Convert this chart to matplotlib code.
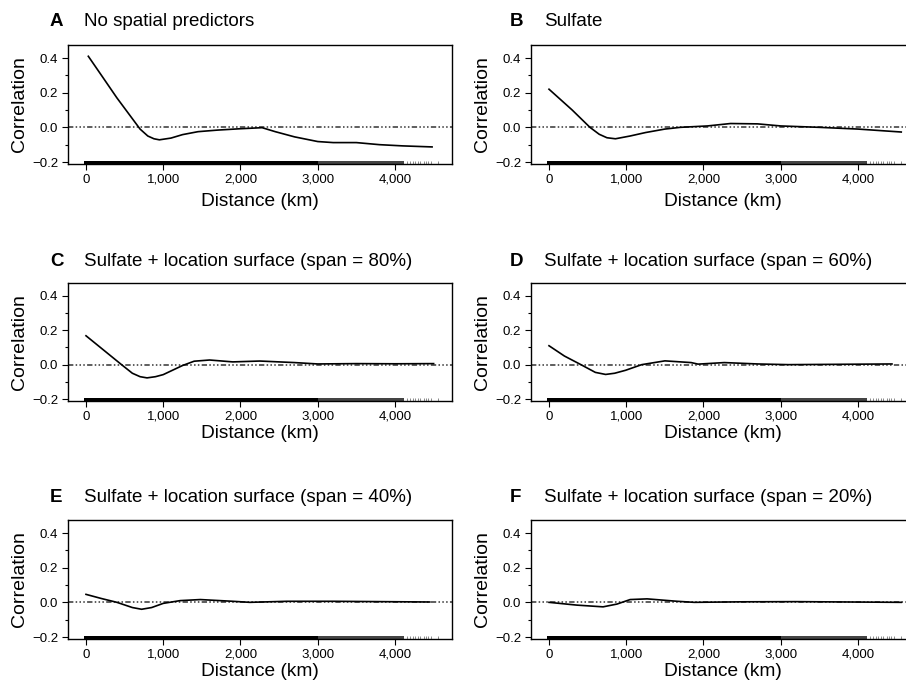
import matplotlib.pyplot as plt
from matplotlib.ticker import FuncFormatter, MultipleLocator

plt.rcParams['font.family'] = ['Liberation Sans Narrow', 'Liberation Sans', 'DejaVu Sans']

# panel letters and titles
letters = ['A', 'B', 'C', 'D', 'E', 'F']
titles = ['No spatial predictors',
          'Sulfate',
          'Sulfate + location surface (span = 80%)',
          'Sulfate + location surface (span = 60%)',
          'Sulfate + location surface (span = 40%)',
          'Sulfate + location surface (span = 20%)']

# correlogram curves (distance km, correlation)
A_x = [30, 200, 400, 600, 700, 800, 880, 950, 1100, 1250, 1450, 1700, 2000, 2280, 2450, 2700, 3000, 3200, 3500, 3800, 4100, 4480]
A_y = [0.41, 0.30, 0.17, 0.05, -0.01, -0.05, -0.066, -0.072, -0.062, -0.042, -0.025, -0.016, -0.008, -0.002, -0.025, -0.055, -0.082, -0.088, -0.088, -0.10, -0.107, -0.113]

B_x = [0, 150, 300, 530, 650, 750, 860, 1050, 1250, 1500, 1700, 2050, 2350, 2700, 3000, 3500, 4000, 4560]
B_y = [0.22, 0.16, 0.10, 0.0, -0.04, -0.06, -0.066, -0.05, -0.03, -0.01, 0.0, 0.008, 0.022, 0.02, 0.008, 0.0, -0.01, -0.027]

C_x = [0, 200, 460, 600, 700, 790, 900, 1000, 1250, 1400, 1600, 1900, 2250, 2700, 3000, 3500, 4000, 4500]
C_y = [0.168, 0.095, 0.0, -0.05, -0.07, -0.077, -0.07, -0.058, -0.005, 0.02, 0.027, 0.016, 0.021, 0.012, 0.004, 0.006, 0.005, 0.006]

D_x = [0, 200, 413, 600, 733, 850, 990, 1200, 1500, 1840, 1930, 2270, 2700, 3100, 4440]
D_y = [0.11, 0.05, 0.0, -0.045, -0.057, -0.05, -0.033, 0.0, 0.022, 0.012, 0.003, 0.012, 0.004, 0.0, 0.004]

E_x = [0, 200, 400, 600, 720, 850, 1000, 1220, 1480, 1900, 2120, 2600, 3200, 4450]
E_y = [0.046, 0.022, 0.0, -0.03, -0.04, -0.03, -0.006, 0.01, 0.016, 0.006, 0.0, 0.006, 0.006, 0.002]

F_x = [0, 360, 700, 880, 1050, 1270, 1660, 1880, 2500, 3200, 4560]
F_y = [0.0, -0.016, -0.026, -0.01, 0.016, 0.02, 0.006, 0.0, 0.003, 0.004, 0.0]

curves_x = [A_x, B_x, C_x, D_x, E_x, F_x]
curves_y = [A_y, B_y, C_y, D_y, E_y, F_y]

# rug of pair distances: dense band, thinner band, isolated ticks
rug_dense = [-20, 3000]
rug_thin = [3000, 4120]
rug_sparse = [4150, 4190, 4230, 4260, 4300, 4330, 4370, 4400, 4430, 4470, 4560]

x_ticks = [0, 1000, 2000, 3000, 4000]
y_ticks = [-0.2, 0.0, 0.2, 0.4]

W, H = 906, 688
fig = plt.figure(figsize=(W / 100, H / 100), dpi=100)

# axes boxes in pixels: left, top, right, bottom
cols = [(68, 452), (531, 915)]
rows = [(45, 164), (283, 401), (520, 639)]
title_y = [22, 262, 497]
xlabel_y = [201, 434, 671]

fmt = FuncFormatter(lambda v, p: f'{int(v):,}')
yfmt = FuncFormatter(lambda v, p: f'{v:.1f}'.replace('-', '\u2212'))

for i in range(6):
    r, c = divmod(i, 2)
    l, rr = cols[c]
    t, b = rows[r]
    ax = fig.add_axes([l / W, 1 - b / H, (rr - l) / W, (b - t) / H])
    ax.set_xlim(-233, 4738)
    ax.set_ylim(-0.2115, 0.475)

    ax.axhline(0, color='#333333', lw=1.1,
               linestyle=(0, (3.5, 1.5, 1, 1.5, 1, 1.5, 1, 1.5)), zorder=1)
    ax.plot(curves_x[i], curves_y[i], color='black', lw=1.2, zorder=3)

    ax.fill_between(rug_dense, -0.2115, -0.192, color='black', lw=0, zorder=2)
    ax.fill_between(rug_thin, -0.2115, -0.194, color='#444444', lw=0, zorder=2)
    ax.vlines(rug_sparse, -0.2115, -0.195, color='#777777', lw=0.6, zorder=2)

    ax.set_xticks(x_ticks)
    ax.xaxis.set_major_formatter(fmt)
    ax.set_yticks(y_ticks)
    ax.yaxis.set_major_formatter(yfmt)
    ax.yaxis.set_minor_locator(MultipleLocator(0.1))
    ax.tick_params(axis='both', which='major', direction='out', length=4,
                   width=0.8, labelsize=9.5, pad=3)
    ax.tick_params(axis='y', which='minor', direction='out', length=2.5, width=0.8)
    for s in ax.spines.values():
        s.set_linewidth(1.0)

    fig.text((l - 48) / W, 1 - (t + b) / 2 / H, 'Correlation', rotation=90,
             ha='center', va='center', fontsize=14)
    fig.text((l + rr) / 2 / W - 0.0, 1 - xlabel_y[r] / H, 'Distance (km)',
             ha='center', va='center', fontsize=13.8)
    lx = 50 if c == 0 else 510
    fig.text(lx / W, 1 - title_y[r] / H, letters[i], ha='left', va='center',
             fontsize=13.5, fontweight='bold')
    fig.text((lx + 34) / W, 1 - title_y[r] / H, titles[i], ha='left',
             va='center', fontsize=13.5)

fig.savefig('out.png', dpi=100)
